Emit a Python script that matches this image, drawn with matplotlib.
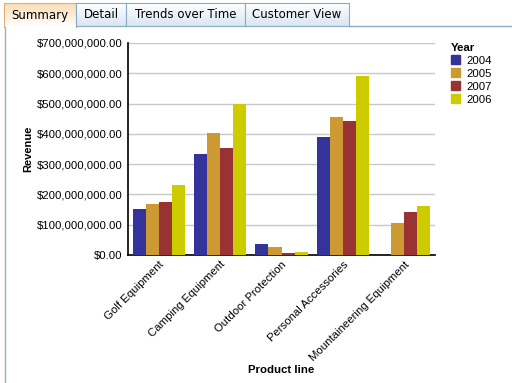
import matplotlib.pyplot as plt
import numpy as np
from matplotlib.patches import Rectangle
from matplotlib.lines import Line2D

# data (revenue, $)
products = ['Golf Equipment', 'Camping Equipment', 'Outdoor Protection',
            'Personal Accessories', 'Mountaineering Equipment']
years = ['2004', '2005', '2007', '2006']
rev_2004 = [152e6, 333e6, 36e6, 389e6, 0]
rev_2005 = [168e6, 403e6, 26e6, 455e6, 105e6]
rev_2007 = [175e6, 353e6, 5e6, 442e6, 142e6]
rev_2006 = [231e6, 498e6, 10e6, 591e6, 162e6]
colors = ['#333399', '#cc9933', '#993333', '#cccc00']

tabs = ['Summary', 'Detail', 'Trends over Time', 'Customer View']
tab_x = [4, 76, 126, 245, 349]

W, H = 512, 383
fig = plt.figure(figsize=(W / 100, H / 100), dpi=100)
fig.patch.set_facecolor('white')

# --- tab strip ---
for i, name in enumerate(tabs):
    x0, x1 = tab_x[i], tab_x[i + 1]
    top = 3
    bot = 27 if i == 0 else 26
    tax = fig.add_axes([x0 / W, 1 - bot / H, (x1 - x0) / W, (bot - top) / H])
    if i == 0:
        c_top, c_bot = np.array([0.98, 0.86, 0.70]), np.array([1.0, 1.0, 1.0])
        edge = '#e0b070'
    else:
        c_top, c_bot = np.array([1.0, 1.0, 1.0]), np.array([0.85, 0.90, 0.95])
        edge = '#8aabc4'
    t = np.linspace(0, 1, 50)[:, None, None]
    grad = c_top * (1 - t) + c_bot * t
    tax.imshow(grad, aspect='auto', extent=[0, 1, 0, 1])
    tax.set_xticks([])
    tax.set_yticks([])
    for s in tax.spines.values():
        s.set_color(edge)
    if i == 0:
        tax.spines['bottom'].set_visible(False)
    tax.text(0.5, 0.5, name, ha='center', va='center', fontsize=8.5,
             family='DejaVu Sans', color='#000000', transform=tax.transAxes)

# frame lines of the tab panel
fig.add_artist(Line2D([349 / W, 1], [1 - 26 / H, 1 - 26 / H], color='#8aabc4', lw=1))
fig.add_artist(Line2D([4.5 / W, 4.5 / W], [0, 1 - 27 / H], color='#8fb3cf', lw=1))

# --- chart ---
plt.rcParams['font.family'] = ['Liberation Sans', 'DejaVu Sans']
ax = fig.add_axes([128 / W, 1 - 255 / H, (435 - 128) / W, (255 - 43) / H])

x = np.arange(len(products))
bw = 0.2125
series = [rev_2004, rev_2005, rev_2007, rev_2006]
for k, (vals, col, yr) in enumerate(zip(series, colors, years)):
    ax.bar(x + (k - 1.5) * bw, vals, width=bw, color=col, label=yr, zorder=3)

ax.set_xlim(-0.5, len(products) - 0.5)
ax.set_ylim(0, 700e6)
ax.set_yticks(np.arange(0, 700e6 + 1, 100e6))
ax.set_yticklabels(['${:,.2f}'.format(v) for v in np.arange(0, 700e6 + 1, 100e6)],
                   fontsize=8.2)
ax.yaxis.grid(True, color='#c8c8c8', lw=1, zorder=0)
ax.tick_params(axis='y', length=0, pad=4)
ax.tick_params(axis='x', length=0, pad=3)
ax.set_xticks(x)
ax.set_xticklabels(products, rotation=45, ha='right', rotation_mode='anchor',
                   fontsize=8.2)
for s in ['top', 'right']:
    ax.spines[s].set_visible(False)
for s in ['left', 'bottom']:
    ax.spines[s].set_color('black')
    ax.spines[s].set_linewidth(1.2)
ax.set_ylabel('Revenue', fontsize=8, fontweight='bold')
ax.yaxis.set_label_coords(-0.31, 0.5)
ax.set_xlabel('Product line', fontsize=8.2, fontweight='bold')
ax.xaxis.set_label_coords(0.5, -0.52)

handles = [Rectangle((0, 0), 1, 1, color=c) for c in colors]
leg = fig.legend(handles, years, title='Year', loc='upper left',
                 bbox_to_anchor=(446 / W, 1 - 38 / H), frameon=False,
                 fontsize=8.2, title_fontproperties={'weight': 'bold', 'size': 8.2},
                 handlelength=0.85, handleheight=0.85, handletextpad=0.55,
                 labelspacing=0.22, borderaxespad=0)
leg._legend_box.align = 'left'

fig.savefig('out.png', dpi=100)
